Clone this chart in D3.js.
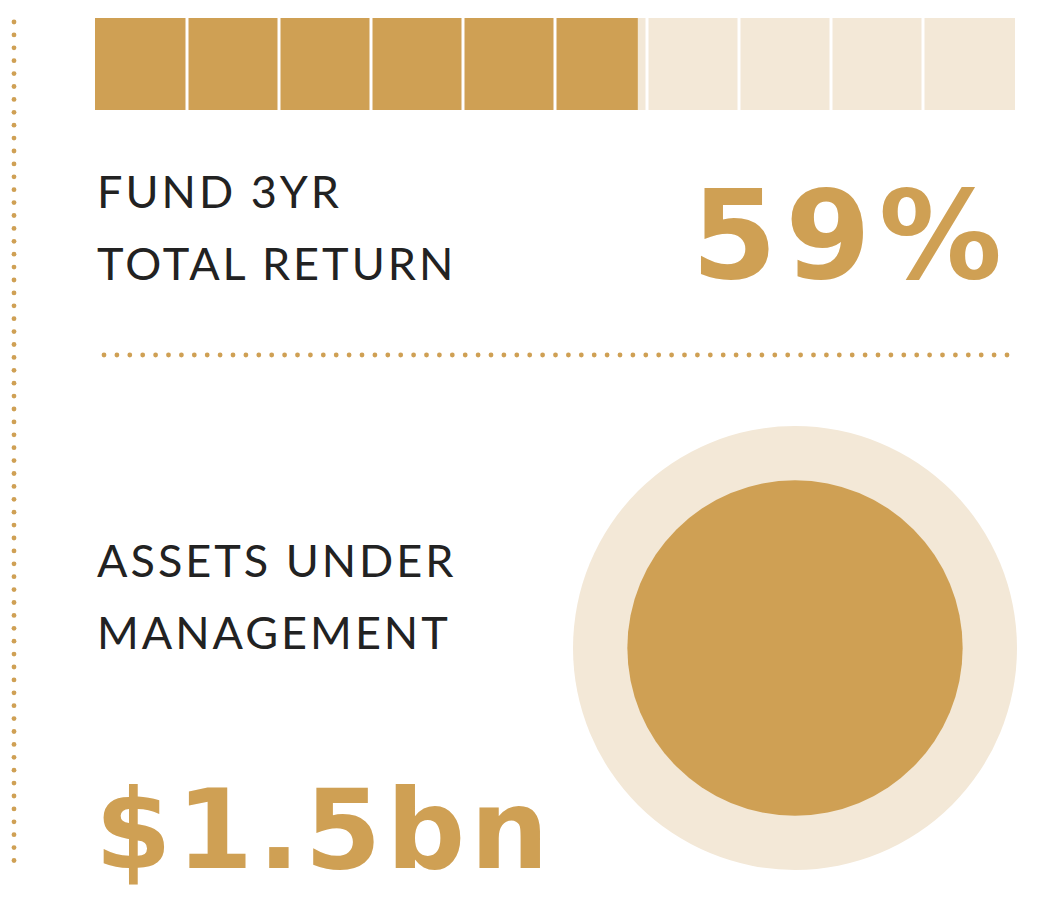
<!DOCTYPE html><html><head><meta charset="utf-8"><script src="https://cdn.jsdelivr.net/npm/d3@7"></script>
<style>body{margin:0;background:#fff}</style></head><body><svg id="c" width="1040" height="909"></svg>
<script>
const cells = d3.range(10);
const returnPct = [59];
const returnLabel = ["FUND 3YR","TOTAL RETURN"];
const aumLabel = ["ASSETS UNDER","MANAGEMENT"];
const aumValue = [1.5];
const aumMax = [2.63];
const gold="#cfa054", light="#f3e8d7", ink="#222";
const svg=d3.select("#c");
const x=d3.scaleLinear().domain([0,100]).range([95,1015]);
const cw=x(10)-x(0);
svg.selectAll("rect.bg").data(cells).join("rect").attr("x",d=>x(d*10)).attr("y",18).attr("width",cw).attr("height",92).attr("fill",light);
svg.append("rect").attr("x",x(0)).attr("y",18).attr("width",x(returnPct[0])-x(0)).attr("height",92).attr("fill",gold);
svg.selectAll("line.div").data(cells.slice(1)).join("line").attr("x1",d=>x(d*10)).attr("x2",d=>x(d*10)).attr("y1",18).attr("y2",110).attr("stroke","#fff").attr("stroke-width",3);
svg.selectAll("circle.v").data(d3.range(0,66)).join("circle").attr("cx",14).attr("cy",d=>22+d*12.9).attr("r",2.4).attr("fill",gold);
svg.selectAll("circle.h").data(d3.range(0,71)).join("circle").attr("cx",d=>104+d*12.9).attr("cy",355).attr("r",2.4).attr("fill",gold);
const lab=(arr,y0)=>svg.selectAll(null).data(arr).join("text").attr("x",97).attr("y",(d,i)=>y0+i*72).text(d=>d)
 .attr("font-family","Lato").attr("font-weight",400).attr("font-size",45).attr("letter-spacing",3).attr("fill",ink);
lab(returnLabel,208);lab(aumLabel,577);
svg.append("text").attr("x",1010).attr("y",278).attr("text-anchor","end").text(returnPct[0]+"%")
 .attr("font-family","DejaVu Sans").attr("font-weight",700).attr("font-size",123).attr("letter-spacing",8).attr("fill",gold);
svg.append("text").attr("x",95).attr("y",868).text("$"+aumValue[0]+"bn")
 .attr("font-family","DejaVu Sans").attr("font-weight",700).attr("font-size",110).attr("letter-spacing",5).attr("fill",gold);
const r=d3.scaleSqrt().domain([0,aumMax[0]]).range([0,222]);
svg.append("circle").attr("cx",795).attr("cy",648).attr("r",r(aumMax[0])).attr("fill",light);
svg.append("circle").attr("cx",795).attr("cy",648).attr("r",r(aumValue[0])).attr("fill",gold);
</script></body></html>
